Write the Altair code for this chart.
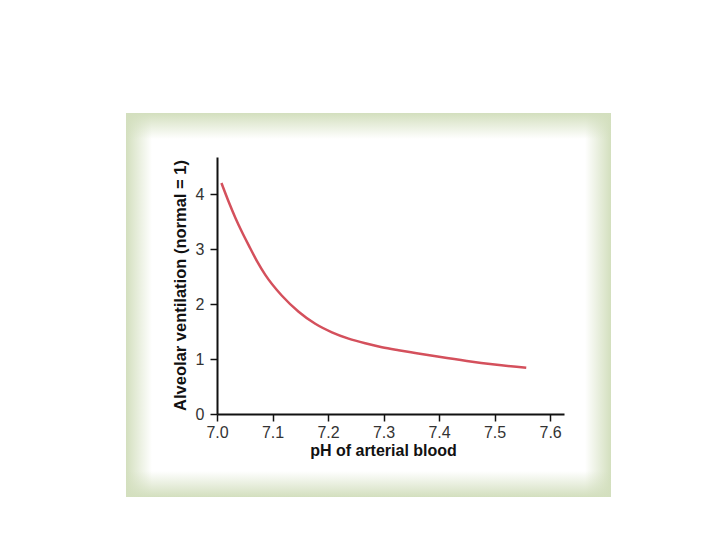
import altair as alt
import pandas as pd

# Data
ph = [7.008, 7.021, 7.033, 7.045, 7.057, 7.072, 7.087, 7.117, 7.147, 7.177,
      7.207, 7.237, 7.267, 7.297, 7.327, 7.357, 7.40, 7.45, 7.50, 7.557]
ventilation = [4.20, 3.86, 3.57, 3.31, 3.07, 2.78, 2.53, 2.15, 1.86, 1.64,
               1.485, 1.37, 1.285, 1.215, 1.16, 1.11, 1.04, 0.965, 0.90, 0.84]
x_ticks = [7.0, 7.1, 7.2, 7.3, 7.4, 7.5, 7.6]
y_ticks = [0, 1, 2, 3, 4]

df = pd.DataFrame({"ph": ph, "vent": ventilation})
one = pd.DataFrame({"k": [0]})

W, H = 347, 257
FONT = "Liberation Sans"
GREEN = "#d3dfbe"
GREEN0 = "rgba(211,223,190,0)"

xscale = alt.Scale(domain=[7.0, 7.625], nice=False, zero=False)
yscale = alt.Scale(domain=[0, 4.673], nice=False)

# panel edges (relative to plot origin)
PX1, PX2, PY1, PY2 = -91, 394, -44, 340
F = 26

def rect(x1, x2, y1, y2, color):
    return alt.Chart(one).mark_rect(color=color).encode(
        x=alt.value(x1), x2=alt.value(x2), y=alt.value(y1), y2=alt.value(y2))

def grad(x1, y1, x2, y2, stops):
    return alt.LinearGradient(gradient="linear", x1=x1, y1=y1, x2=x2, y2=y2,
                              stops=[alt.GradientStop(color=c, offset=o) for c, o in stops])

panel = rect(PX1, PX2, PY1, PY2, "white")
left = rect(PX1, PX1 + F, PY1, PY2, grad(0, 0, 1, 0, [(GREEN, 0), (GREEN0, 1)]))
right = rect(PX2 - F, PX2, PY1, PY2, grad(0, 0, 1, 0, [(GREEN0, 0), (GREEN, 1)]))
top = rect(PX1, PX2, PY1, PY1 + F, grad(0, 0, 0, 1, [(GREEN, 0), (GREEN0, 1)]))
bottom = rect(PX1, PX2, PY2 - F, PY2, grad(0, 0, 0, 1, [(GREEN0, 0), (GREEN, 1)]))

line = alt.Chart(df).mark_line(color="#d4505c", strokeWidth=2.5, interpolate="monotone").encode(
    x=alt.X("ph:Q", scale=xscale, axis=alt.Axis(
        values=x_ticks, format=".1f", title="pH of arterial blood",
        labelFontSize=16, labelColor="#333", labelFont=FONT, labelPadding=3,
        labelFlush=False,
        tickSize=7, tickColor="#111", tickWidth=1.5,
        domainColor="#111", domainWidth=2, grid=False, zindex=1,
        titleFont=FONT, titleFontSize=16, titleFontWeight="bold", titleColor="#111",
        titleX=166, titleY=41, titleAlign="center", titleBaseline="alphabetic")),
    y=alt.Y("vent:Q", scale=yscale, axis=alt.Axis(
        values=y_ticks, format="d", title="Alveolar ventilation (normal = 1)",
        labelFontSize=16, labelColor="#333", labelFont=FONT, labelPadding=6,
        labelFlush=False,
        tickSize=7, tickColor="#111", tickWidth=1.5,
        domainColor="#111", domainWidth=2, grid=False, zindex=1,
        titleFont=FONT, titleFontSize=16.5, titleFontWeight="bold", titleColor="#111",
        titleX=-32, titleY=128, titleAngle=270, titleAlign="center",
        titleBaseline="alphabetic")),
)

chart = alt.layer(panel, left, right, top, bottom, line).properties(
    width=W, height=H,
    autosize=alt.AutoSizeParams(type="none"),
    padding={"left": 209, "top": 149, "right": 148, "bottom": 118},
    background="white",
).configure_view(stroke=None)

chart.save("out.html", embed_options={"renderer": "svg", "actions": False})
